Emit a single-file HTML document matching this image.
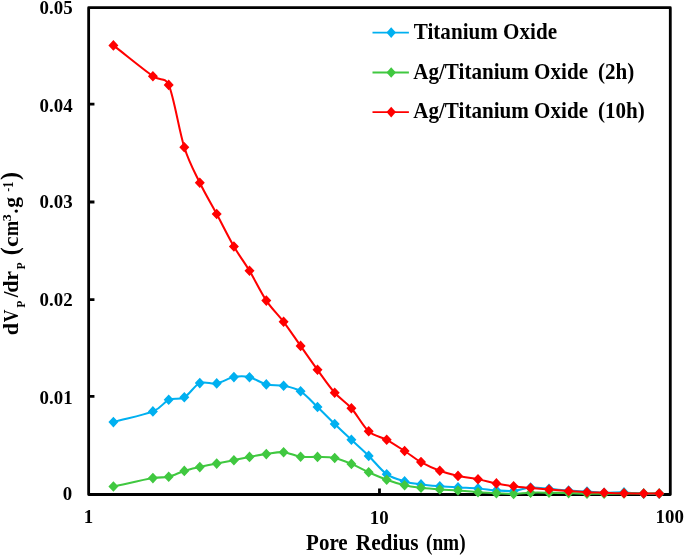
<!DOCTYPE html>
<html lang="en">
<head>
<meta charset="utf-8">
<title>Pore size distribution</title>
<style>
html,body{margin:0;padding:0;background:#fff;}
body{width:685px;height:555px;overflow:hidden;}
svg{display:block;will-change:transform;}
</style>
</head>
<body>
<svg width="685" height="555" viewBox="0 0 685 555">
<rect x="0" y="0" width="685" height="555" fill="#ffffff"/>
<rect x="88.65" y="7.65" width="581.65" height="486.85" fill="none" stroke="#000" stroke-width="2.80" stroke-linejoin="round"/>
<path d="M88.65 396.40H94.45 M88.65 299.70H94.45 M88.65 202.00H94.45 M88.65 104.10H94.45 M379.48 494.50V488.40" stroke="#000" stroke-width="2.80" fill="none"/>
<path d="M113.40 422.10 C126.57 418.53 143.68 415.12 152.90 411.40 C161.99 407.73 163.47 402.15 168.70 399.80 C173.93 397.45 179.12 400.08 184.30 397.30 C189.48 394.52 194.40 385.42 199.80 383.10 C205.20 380.78 211.02 384.40 216.70 383.40 C222.38 382.40 228.43 378.13 233.90 377.10 C239.37 376.07 244.10 375.98 249.50 377.20 C254.90 378.42 260.62 382.98 266.30 384.40 C271.98 385.82 277.88 384.55 283.60 385.70 C289.32 386.85 294.95 387.75 300.60 391.30 C306.25 394.85 311.82 401.55 317.50 407.00 C323.18 412.45 329.05 418.53 334.70 424.00 C340.35 429.47 345.73 434.48 351.40 439.80 C357.07 445.12 362.82 450.17 368.70 455.90 C374.58 461.63 380.72 469.95 386.70 474.20 C392.68 478.45 398.88 479.70 404.60 481.40 C410.32 483.10 415.13 483.60 421.00 484.40 C426.87 485.20 433.63 485.70 439.80 486.20 C445.97 486.70 451.63 487.03 458.00 487.40 C464.37 487.77 471.60 487.90 478.00 488.40 C484.40 488.90 490.47 489.97 496.40 490.40 C502.33 490.83 507.90 491.47 513.60 491.00 C519.30 490.53 524.70 487.97 530.60 487.60 C536.50 487.23 542.67 488.30 549.00 488.80 C555.33 489.30 562.27 490.13 568.60 490.60 C574.93 491.07 581.08 491.23 587.00 491.60 C592.92 491.97 597.93 492.67 604.10 492.80 C610.27 492.93 617.40 492.27 624.00 492.40 C630.60 492.53 637.83 493.40 643.70 493.60 C649.57 493.80 654.03 493.60 659.20 493.60" fill="none" stroke="#00B0F0" stroke-width="2.05" stroke-linejoin="round" stroke-linecap="round"/>
<path d="M113.40 416.80L118.40 422.10L113.40 427.40L108.40 422.10Z M152.90 406.10L157.90 411.40L152.90 416.70L147.90 411.40Z M168.70 394.50L173.70 399.80L168.70 405.10L163.70 399.80Z M184.30 392.00L189.30 397.30L184.30 402.60L179.30 397.30Z M199.80 377.80L204.80 383.10L199.80 388.40L194.80 383.10Z M216.70 378.10L221.70 383.40L216.70 388.70L211.70 383.40Z M233.90 371.80L238.90 377.10L233.90 382.40L228.90 377.10Z M249.50 371.90L254.50 377.20L249.50 382.50L244.50 377.20Z M266.30 379.10L271.30 384.40L266.30 389.70L261.30 384.40Z M283.60 380.40L288.60 385.70L283.60 391.00L278.60 385.70Z M300.60 386.00L305.60 391.30L300.60 396.60L295.60 391.30Z M317.50 401.70L322.50 407.00L317.50 412.30L312.50 407.00Z M334.70 418.70L339.70 424.00L334.70 429.30L329.70 424.00Z M351.40 434.50L356.40 439.80L351.40 445.10L346.40 439.80Z M368.70 450.60L373.70 455.90L368.70 461.20L363.70 455.90Z M386.70 468.90L391.70 474.20L386.70 479.50L381.70 474.20Z M404.60 476.10L409.60 481.40L404.60 486.70L399.60 481.40Z M421.00 479.10L426.00 484.40L421.00 489.70L416.00 484.40Z M439.80 480.90L444.80 486.20L439.80 491.50L434.80 486.20Z M458.00 482.10L463.00 487.40L458.00 492.70L453.00 487.40Z M478.00 483.10L483.00 488.40L478.00 493.70L473.00 488.40Z M496.40 485.10L501.40 490.40L496.40 495.70L491.40 490.40Z M513.60 485.70L518.60 491.00L513.60 496.30L508.60 491.00Z M530.60 482.30L535.60 487.60L530.60 492.90L525.60 487.60Z M549.00 483.50L554.00 488.80L549.00 494.10L544.00 488.80Z M568.60 485.30L573.60 490.60L568.60 495.90L563.60 490.60Z M587.00 486.30L592.00 491.60L587.00 496.90L582.00 491.60Z M604.10 487.50L609.10 492.80L604.10 498.10L599.10 492.80Z M624.00 487.10L629.00 492.40L624.00 497.70L619.00 492.40Z M643.70 488.30L648.70 493.60L643.70 498.90L638.70 493.60Z M659.20 488.30L664.20 493.60L659.20 498.90L654.20 493.60Z" fill="#00B0F0" stroke="none"/>

<path d="M113.40 486.50 C126.57 483.70 143.68 479.72 152.90 478.10 C160.71 476.73 163.47 478.00 168.70 476.80 C173.93 475.60 179.12 472.52 184.30 470.90 C189.48 469.28 194.40 468.32 199.80 467.10 C205.20 465.88 211.02 464.75 216.70 463.60 C222.38 462.45 228.43 461.32 233.90 460.20 C239.37 459.08 244.10 457.92 249.50 456.90 C254.90 455.88 260.62 454.88 266.30 454.10 C271.98 453.32 277.88 451.75 283.60 452.20 C289.32 452.65 294.95 456.02 300.60 456.80 C306.25 457.58 311.82 456.70 317.50 456.90 C323.18 457.10 329.05 456.83 334.70 458.00 C340.35 459.17 345.73 461.52 351.40 463.90 C357.07 466.28 362.82 469.65 368.70 472.30 C374.58 474.95 380.72 477.63 386.70 479.80 C392.68 481.97 398.88 483.97 404.60 485.30 C410.32 486.63 415.13 487.10 421.00 487.80 C426.87 488.50 433.63 489.05 439.80 489.50 C445.97 489.95 451.63 490.05 458.00 490.50 C464.37 490.95 471.60 491.75 478.00 492.20 C484.40 492.65 490.47 492.90 496.40 493.20 C502.33 493.50 507.90 494.08 513.60 494.00 C519.30 493.92 524.70 492.92 530.60 492.70 C536.50 492.48 542.67 492.63 549.00 492.70 C555.33 492.77 562.27 492.93 568.60 493.10 C574.93 493.27 581.08 493.58 587.00 493.70 C592.92 493.82 597.93 493.85 604.10 493.80 C610.27 493.75 617.40 493.45 624.00 493.40 C630.60 493.35 637.83 493.48 643.70 493.50 C649.57 493.52 654.03 493.50 659.20 493.50" fill="none" stroke="#40C840" stroke-width="2.05" stroke-linejoin="round" stroke-linecap="round"/>
<path d="M113.40 481.20L118.40 486.50L113.40 491.80L108.40 486.50Z M152.90 472.80L157.90 478.10L152.90 483.40L147.90 478.10Z M168.70 471.50L173.70 476.80L168.70 482.10L163.70 476.80Z M184.30 465.60L189.30 470.90L184.30 476.20L179.30 470.90Z M199.80 461.80L204.80 467.10L199.80 472.40L194.80 467.10Z M216.70 458.30L221.70 463.60L216.70 468.90L211.70 463.60Z M233.90 454.90L238.90 460.20L233.90 465.50L228.90 460.20Z M249.50 451.60L254.50 456.90L249.50 462.20L244.50 456.90Z M266.30 448.80L271.30 454.10L266.30 459.40L261.30 454.10Z M283.60 446.90L288.60 452.20L283.60 457.50L278.60 452.20Z M300.60 451.50L305.60 456.80L300.60 462.10L295.60 456.80Z M317.50 451.60L322.50 456.90L317.50 462.20L312.50 456.90Z M334.70 452.70L339.70 458.00L334.70 463.30L329.70 458.00Z M351.40 458.60L356.40 463.90L351.40 469.20L346.40 463.90Z M368.70 467.00L373.70 472.30L368.70 477.60L363.70 472.30Z M386.70 474.50L391.70 479.80L386.70 485.10L381.70 479.80Z M404.60 480.00L409.60 485.30L404.60 490.60L399.60 485.30Z M421.00 482.50L426.00 487.80L421.00 493.10L416.00 487.80Z M439.80 484.20L444.80 489.50L439.80 494.80L434.80 489.50Z M458.00 485.20L463.00 490.50L458.00 495.80L453.00 490.50Z M478.00 486.90L483.00 492.20L478.00 497.50L473.00 492.20Z M496.40 487.90L501.40 493.20L496.40 498.50L491.40 493.20Z M513.60 488.70L518.60 494.00L513.60 499.30L508.60 494.00Z M530.60 487.40L535.60 492.70L530.60 498.00L525.60 492.70Z M549.00 487.40L554.00 492.70L549.00 498.00L544.00 492.70Z M568.60 487.80L573.60 493.10L568.60 498.40L563.60 493.10Z M587.00 488.40L592.00 493.70L587.00 499.00L582.00 493.70Z M604.10 488.50L609.10 493.80L604.10 499.10L599.10 493.80Z M624.00 488.10L629.00 493.40L624.00 498.70L619.00 493.40Z M643.70 488.20L648.70 493.50L643.70 498.80L638.70 493.50Z M659.20 488.20L664.20 493.50L659.20 498.80L654.20 493.50Z" fill="#40C840" stroke="none"/>

<path d="M113.40 45.40 C126.57 55.67 143.68 69.62 152.90 76.20 C160.24 81.44 165.06 76.65 168.70 84.90 C173.93 96.75 179.12 131.00 184.30 147.30 C189.48 163.60 194.40 171.58 199.80 182.70 C205.20 193.82 211.02 203.37 216.70 214.00 C222.38 224.63 228.43 237.03 233.90 246.50 C239.37 255.97 244.10 261.78 249.50 270.80 C254.90 279.82 260.62 292.10 266.30 300.60 C271.98 309.10 277.88 314.25 283.60 321.80 C289.32 329.35 294.95 337.90 300.60 345.90 C306.25 353.90 311.82 362.00 317.50 369.80 C323.18 377.60 329.05 386.30 334.70 392.70 C340.35 399.10 345.73 401.77 351.40 408.20 C357.07 414.63 362.82 426.03 368.70 431.30 C374.58 436.57 380.72 436.52 386.70 439.80 C392.68 443.08 398.88 447.28 404.60 451.00 C410.32 454.72 415.13 458.82 421.00 462.10 C426.87 465.38 433.63 468.40 439.80 470.70 C445.97 473.00 451.63 474.48 458.00 475.90 C464.37 477.32 471.60 477.95 478.00 479.20 C484.40 480.45 490.47 482.22 496.40 483.40 C502.33 484.58 507.90 485.53 513.60 486.30 C519.30 487.07 524.70 487.47 530.60 488.00 C536.50 488.53 542.67 489.00 549.00 489.50 C555.33 490.00 562.27 490.55 568.60 491.00 C574.93 491.45 581.08 491.92 587.00 492.20 C592.92 492.48 597.93 492.52 604.10 492.70 C610.27 492.88 617.40 493.17 624.00 493.30 C630.60 493.43 637.83 493.47 643.70 493.50 C649.57 493.53 654.03 493.50 659.20 493.50" fill="none" stroke="#FF0000" stroke-width="2.05" stroke-linejoin="round" stroke-linecap="round"/>
<path d="M113.40 40.10L118.40 45.40L113.40 50.70L108.40 45.40Z M152.90 70.90L157.90 76.20L152.90 81.50L147.90 76.20Z M168.70 79.60L173.70 84.90L168.70 90.20L163.70 84.90Z M184.30 142.00L189.30 147.30L184.30 152.60L179.30 147.30Z M199.80 177.40L204.80 182.70L199.80 188.00L194.80 182.70Z M216.70 208.70L221.70 214.00L216.70 219.30L211.70 214.00Z M233.90 241.20L238.90 246.50L233.90 251.80L228.90 246.50Z M249.50 265.50L254.50 270.80L249.50 276.10L244.50 270.80Z M266.30 295.30L271.30 300.60L266.30 305.90L261.30 300.60Z M283.60 316.50L288.60 321.80L283.60 327.10L278.60 321.80Z M300.60 340.60L305.60 345.90L300.60 351.20L295.60 345.90Z M317.50 364.50L322.50 369.80L317.50 375.10L312.50 369.80Z M334.70 387.40L339.70 392.70L334.70 398.00L329.70 392.70Z M351.40 402.90L356.40 408.20L351.40 413.50L346.40 408.20Z M368.70 426.00L373.70 431.30L368.70 436.60L363.70 431.30Z M386.70 434.50L391.70 439.80L386.70 445.10L381.70 439.80Z M404.60 445.70L409.60 451.00L404.60 456.30L399.60 451.00Z M421.00 456.80L426.00 462.10L421.00 467.40L416.00 462.10Z M439.80 465.40L444.80 470.70L439.80 476.00L434.80 470.70Z M458.00 470.60L463.00 475.90L458.00 481.20L453.00 475.90Z M478.00 473.90L483.00 479.20L478.00 484.50L473.00 479.20Z M496.40 478.10L501.40 483.40L496.40 488.70L491.40 483.40Z M513.60 481.00L518.60 486.30L513.60 491.60L508.60 486.30Z M530.60 482.70L535.60 488.00L530.60 493.30L525.60 488.00Z M549.00 484.20L554.00 489.50L549.00 494.80L544.00 489.50Z M568.60 485.70L573.60 491.00L568.60 496.30L563.60 491.00Z M587.00 486.90L592.00 492.20L587.00 497.50L582.00 492.20Z M604.10 487.40L609.10 492.70L604.10 498.00L599.10 492.70Z M624.00 488.00L629.00 493.30L624.00 498.60L619.00 493.30Z M643.70 488.20L648.70 493.50L643.70 498.80L638.70 493.50Z M659.20 488.20L664.20 493.50L659.20 498.80L654.20 493.50Z" fill="#FF0000" stroke="none"/>

<g font-family="'Liberation Serif', 'Times New Roman', serif" font-weight="bold" fill="#000">
<g font-size="18.9" text-anchor="end" transform="scale(1 0.9500)">
<text x="72.15" y="526.74">0</text>
<text x="72.60" y="425.53">0.01</text>
<text x="72.60" y="322.00">0.02</text>
<text x="72.60" y="219.47">0.03</text>
<text x="72.60" y="117.58">0.04</text>
<text x="72.60" y="14.42">0.05</text>
</g>
<g font-size="18.9" text-anchor="middle" transform="scale(1 0.9500)">
<text x="88.55" y="550.74">1</text>
<text x="379.28" y="551.24">10</text>
<text x="669.75" y="550.74">100</text>
</g>
<text transform="translate(306.10 549.60) scale(1.000 1.05)" font-size="21.0" text-anchor="start">Pore</text>
<text transform="translate(355.70 549.60) scale(1.018 1.05)" font-size="21.0" text-anchor="start">Redius</text>
<text transform="translate(425.95 549.60) scale(0.920 1.05)" font-size="21.0" text-anchor="start">(nm)</text>
<g transform="translate(18.30 0) rotate(-90)" text-anchor="middle">
<text transform="translate(-328.98 0.00) scale(1.030 0.960)" font-size="21.50">d</text>
<text transform="translate(-315.95 0.00) scale(0.810 1.000)" font-size="21.50">V</text>
<text transform="translate(-304.14 6.50) scale(0.900 1.000)" font-size="13.00">P</text>
<text transform="translate(-294.45 0.00) scale(0.950 1.000)" font-size="21.50">/</text>
<text transform="translate(-286.68 0.00) scale(1.030 0.960)" font-size="21.50">d</text>
<text transform="translate(-275.86 0.00) scale(1.030 1.000)" font-size="21.50">r</text>
<text transform="translate(-266.04 6.50) scale(0.900 1.000)" font-size="13.00">P</text>
<text transform="translate(-251.34 -0.50) scale(1.000 1.060)" font-size="24.00">(</text>
<text transform="translate(-241.61 0.00) scale(1.120 1.000)" font-size="21.50">c</text>
<text transform="translate(-228.59 0.00) scale(0.840 1.000)" font-size="21.50">m</text>
<text transform="translate(-217.73 -7.10) scale(1.100 1.000)" font-size="12.80">3</text>
<text transform="translate(-211.00 0.00) scale(0.900 1.000)" font-size="21.50">.</text>
<text transform="translate(-202.32 0.00) scale(1.000 1.000)" font-size="21.50">g</text>
<text transform="translate(-189.85 -5.90) scale(0.900 1.000)" font-size="12.80">-</text>
<text transform="translate(-184.82 -5.60) scale(0.950 1.180)" font-size="12.80">1</text>
<text transform="translate(-176.06 -0.50) scale(1.000 1.060)" font-size="24.00">)</text>
</g>
<path d="M372.5 32.60H408.9" stroke="#00B0F0" stroke-width="1.9" fill="none"/>
<path d="M391.20 27.30L395.90 32.60L391.20 37.90L386.50 32.60Z" fill="#00B0F0"/>
<text transform="translate(413.80 39.10) scale(1 1.07)" x="0" y="0" font-size="21.1" text-anchor="start">Titanium Oxide</text>
<path d="M372.5 72.50H408.9" stroke="#40C840" stroke-width="1.9" fill="none"/>
<path d="M391.20 67.20L395.90 72.50L391.20 77.80L386.50 72.50Z" fill="#40C840"/>
<text transform="translate(413.20 79.30) scale(1 1.07)" x="0" y="0" font-size="21.1" text-anchor="start">Ag/Titanium Oxide<tspan dx="4.6"> (2h)</tspan></text>
<path d="M372.5 112.10H408.9" stroke="#FF0000" stroke-width="1.9" fill="none"/>
<path d="M391.20 106.80L395.90 112.10L391.20 117.40L386.50 112.10Z" fill="#FF0000"/>
<text transform="translate(413.20 118.35) scale(1 1.07)" x="0" y="0" font-size="21.1" text-anchor="start">Ag/Titanium Oxide<tspan dx="4.6"> (10h)</tspan></text>
</g>
</svg>
</body>
</html>
